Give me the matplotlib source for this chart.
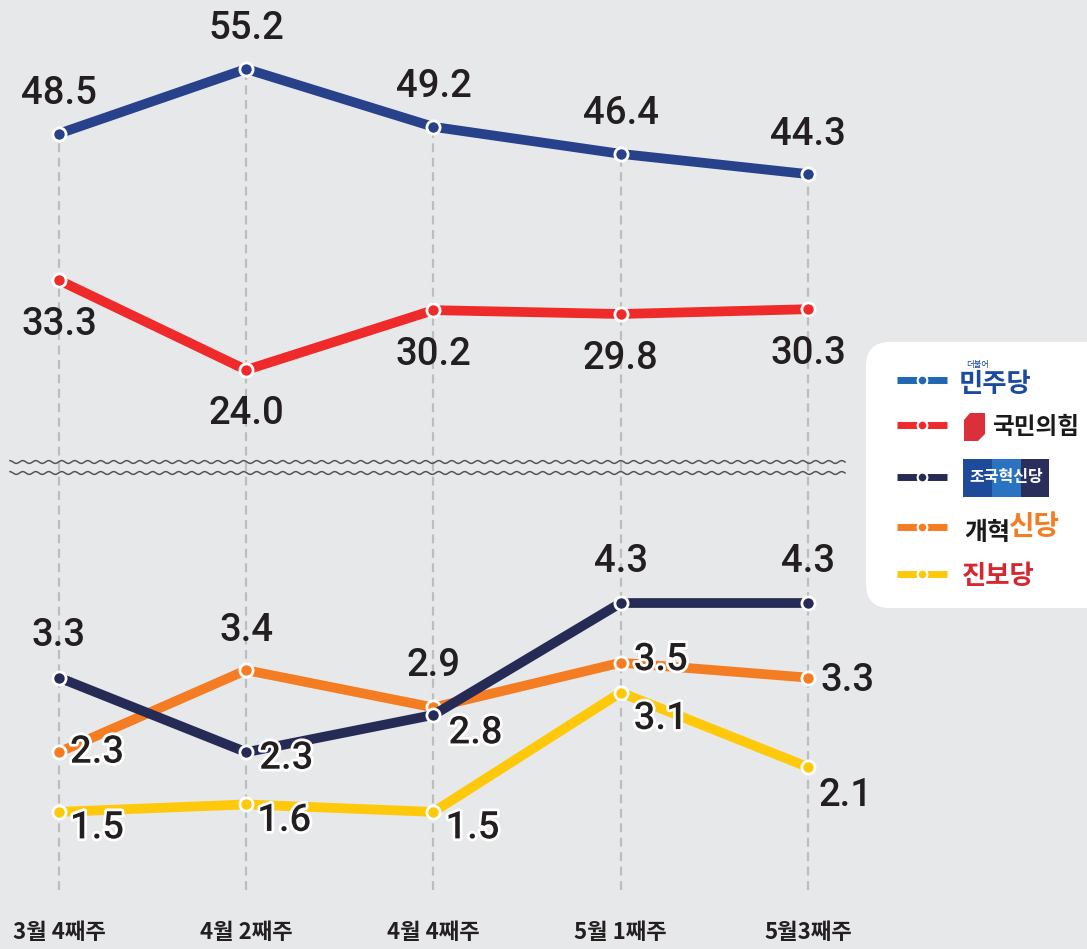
import numpy as np
import matplotlib
matplotlib.use('Agg')
import matplotlib.pyplot as plt
import matplotlib.patheffects as pe
from matplotlib.patches import FancyBboxPatch, Polygon, Rectangle

plt.rcParams['font.family'] = ['Noto Sans CJK KR', 'DejaVu Sans']

# 데이터
weeks = ['3월 4째주', '4월 2째주', '4월 4째주', '5월 1째주', '5월3째주']
minju = [48.5, 55.2, 49.2, 46.4, 44.3]
ppp = [33.3, 24.0, 30.2, 29.8, 30.3]
jokuk = [3.3, 2.3, 2.8, 4.3, 4.3]
gaehyeok = [2.3, 3.4, 2.9, 3.5, 3.3]
jinbo = [1.5, 1.6, 1.5, 3.1, 2.1]

bg = '#e7e8ea'
c_minju = '#27418b'
c_ppp = '#ee2a2b'
c_jokuk = '#262b55'
c_gae = '#f47c22'
c_jinbo = '#fec80b'
txt = '#231f20'

W, H = 1087, 949
fig = plt.figure(figsize=(W / 100, H / 100), dpi=100, facecolor=bg)

x = np.arange(len(weeks))
xlim = (-59 / 187.25, (W - 59) / 187.25)

ax_top = fig.add_axes([0, 1 - 470 / H, 1, 470 / H])
ax_bot = fig.add_axes([0, 1 - 890 / H, 1, (890 - 470) / H])
for a in (ax_top, ax_bot):
    a.set_facecolor('none')
    a.set_xlim(*xlim)
    for s in a.spines.values():
        s.set_visible(False)
    a.set_yticks([])
ax_top.set_ylim(13.63, 62.35)
ax_bot.set_ylim(0.453, 6.083)
ax_top.set_xticks([])

# 점선 세로선
ax_top.vlines(x, 13.63, minju, colors='#bdbdbd', linestyles=(0, (4, 2.5)), lw=1.6, zorder=1)
ax_bot.vlines(x, 0.453, 6.083, colors='#bdbdbd', linestyles=(0, (4, 2.5)), lw=1.6, zorder=1)

def draw(ax, vals, color, z):
    ax.plot(x, vals, color=color, lw=7, solid_capstyle='butt', zorder=z,
            marker='o', markersize=9.5, markerfacecolor=color,
            markeredgecolor='white', markeredgewidth=2.0)

draw(ax_top, minju, c_minju, 3)
draw(ax_top, ppp, c_ppp, 3)
draw(ax_bot, jinbo, c_jinbo, 3)
draw(ax_bot, gaehyeok, c_gae, 4)
draw(ax_bot, jokuk, c_jokuk, 5)

fs = 27.5
halo = [pe.withStroke(linewidth=4, foreground='white')]
def lab(ax, xi, v, dx, dy, stroke=False):
    t = ax.annotate(f'{v:.1f}', (xi, v), xytext=(dx, dy), textcoords='offset pixels',
                    ha='center', va='center', fontsize=fs, color=txt, fontweight='medium',
                    family=['Roboto', 'DejaVu Sans'], zorder=10)
    if stroke:
        t.set_path_effects(halo)

for i, v in enumerate(minju):
    lab(ax_top, i, v, 0, 40)
for i, v in enumerate(ppp):
    lab(ax_top, i, v, 0, -44)

lab(ax_bot, 0, jokuk[0], 0, 42)
lab(ax_bot, 1, jokuk[1], 40, -6, True)
lab(ax_bot, 2, jokuk[2], 42, -18, True)
lab(ax_bot, 3, jokuk[3], 0, 42)
lab(ax_bot, 4, jokuk[4], 0, 42)

lab(ax_bot, 0, gaehyeok[0], 38, 0, True)
lab(ax_bot, 1, gaehyeok[1], 0, 40)
lab(ax_bot, 2, gaehyeok[2], 0, 42)
lab(ax_bot, 3, gaehyeok[3], 40, 3, True)
lab(ax_bot, 4, gaehyeok[4], 40, -3)

lab(ax_bot, 0, jinbo[0], 38, -16, True)
lab(ax_bot, 1, jinbo[1], 38, -16, True)
lab(ax_bot, 2, jinbo[2], 39, -16, True)
lab(ax_bot, 3, jinbo[3], 40, -26, True)
lab(ax_bot, 4, jinbo[4], 38, -28)

ax_bot.set_xticks(x)
ax_bot.set_xticklabels(weeks, fontsize=16, fontweight='bold', color=txt)
ax_bot.tick_params(axis='x', length=0, pad=22)

# 오버레이 (물결선, 범례)
ov = fig.add_axes([0, 0, 1, 1], facecolor='none')
ov.set_xlim(0, W)
ov.set_ylim(H, 0)
ov.axis('off')

wx = np.linspace(10, 845, 2000)
for wy in (462, 473):
    ov.plot(wx, wy + 1.4 * np.sin(2 * np.pi * wx / 13.0), color='#555555', lw=1.1)

ov.add_patch(FancyBboxPatch((866, 342), 260, 266, boxstyle='round,pad=0,rounding_size=24',
                            facecolor='white', edgecolor='none'))

leg_y = [380, 425, 477, 527, 574]
leg_c = ['#1f67b1', c_ppp, c_jokuk, c_gae, c_jinbo]
for yy, cc in zip(leg_y, leg_c):
    ov.plot([897, 917], [yy, yy], color=cc, lw=5, solid_capstyle='butt')
    ov.plot([927, 947], [yy, yy], color=cc, lw=5, solid_capstyle='butt')
    ov.plot([922], [yy], marker='o', markersize=7, color=cc, markeredgecolor='white', markeredgewidth=1.5)

# 민주당
ov.text(995, 384, '민주당', ha='center', va='center', fontsize=19, fontweight='black', color='#1b4ba0')
ov.text(978, 364, '더불어', ha='center', va='center', fontsize=6, color='#1b4ba0', fontstyle='italic')
# 국민의힘
ov.add_patch(Polygon([[970, 413], [985, 413], [985, 434], [978, 441], [964, 441], [964, 420]],
                     closed=True, facecolor='#dc2f3c', edgecolor='none'))
ov.text(1036, 427, '국민의힘', ha='center', va='center', fontsize=17, fontweight='black', color='#1a1a1a')
# 조국혁신당
ov.add_patch(Rectangle((963, 459), 29, 38, facecolor='#1e4a9a', edgecolor='none'))
ov.add_patch(Rectangle((992, 459), 29, 38, facecolor='#2a73c0', edgecolor='none'))
ov.add_patch(Rectangle((1021, 459), 28, 38, facecolor='#2a2e5c', edgecolor='none'))
ov.text(1006, 477, '조국혁신당', ha='center', va='center', fontsize=11.5, fontweight='bold', color='white')
# 개혁신당
ov.text(1010, 533, '개혁', ha='right', va='center', fontsize=18, fontweight='black', color='#1a1a1a')
ov.text(1009, 527, '신당', ha='left', va='center', fontsize=20, fontweight='black', color=c_gae)
# 진보당
ov.text(998, 576, '진보당', ha='center', va='center', fontsize=19, fontweight='black', color='#d7262f')

fig.savefig('out.png', dpi=100, facecolor=bg)
